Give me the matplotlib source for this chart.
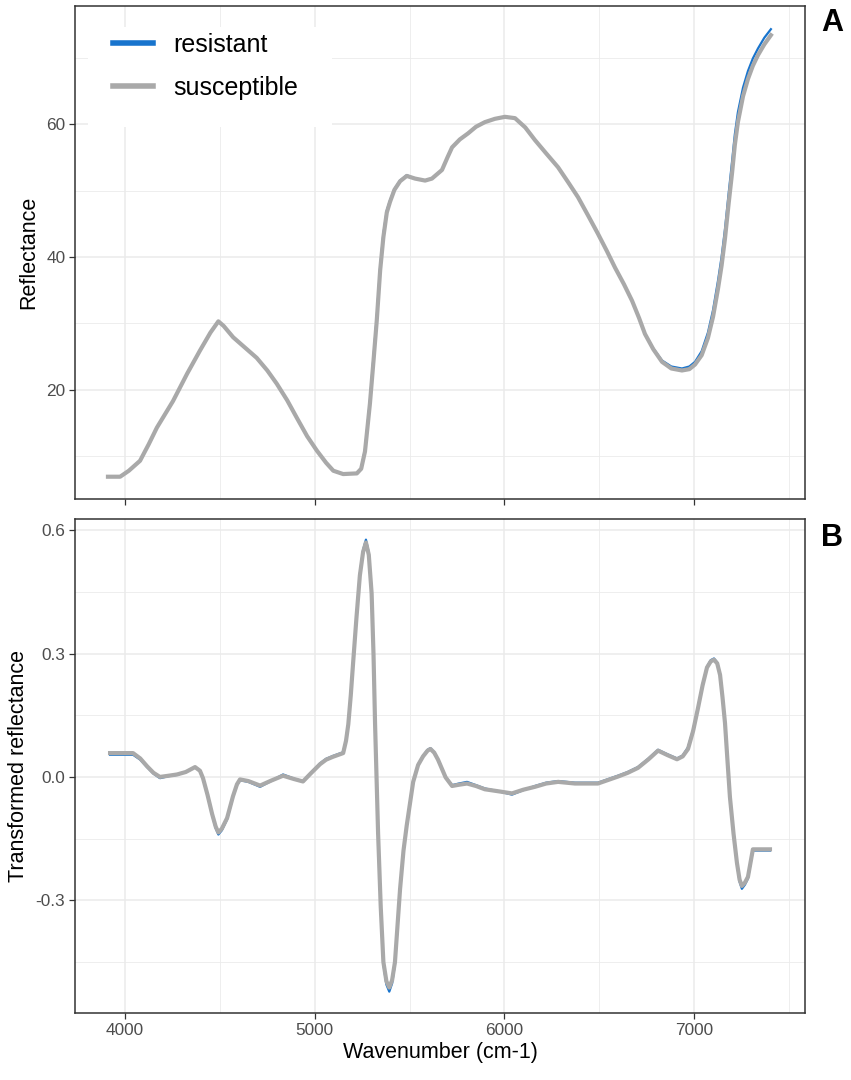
import numpy as np
from matplotlib import pyplot as plt
from matplotlib.patches import Rectangle

plt.rcParams['font.family'] = ['Liberation Sans', 'DejaVu Sans']

# panel A: raw reflectance
wn_a = [3910, 3974, 4020, 4079, 4125, 4168, 4253, 4327, 4395, 4450, 4492, 4520,
        4570, 4630, 4694, 4750, 4800, 4855, 4905, 4960, 5012, 5060, 5098, 5150,
        5222, 5245, 5265, 5291, 5310, 5327, 5345, 5362, 5380, 5397, 5420, 5450,
        5485, 5529, 5582, 5618, 5671, 5700, 5724, 5765, 5808, 5850, 5897, 5950,
        6003, 6056, 6110, 6161, 6220, 6283, 6335, 6388, 6440, 6493, 6540, 6583,
        6630, 6673, 6710, 6741, 6785, 6831, 6880, 6936, 6975, 7005, 7040, 7073,
        7100, 7126, 7145, 7163, 7182, 7200, 7215, 7231, 7258, 7284, 7310, 7337,
        7370, 7405]
refl_res = [6.9, 6.9, 7.8, 9.3, 11.8, 14.3, 18.3, 22.4, 25.9, 28.6, 30.3, 29.6,
            27.9, 26.4, 24.8, 22.9, 20.9, 18.4, 15.8, 13.0, 10.8, 9.0, 7.8, 7.3,
            7.4, 8.2, 11.0, 18.3, 25.0, 30.9, 38.5, 43.5, 47.0, 48.5, 50.2, 51.5,
            52.3, 51.8, 51.5, 51.8, 53.1, 55.0, 56.5, 57.7, 58.6, 59.6, 60.3, 60.8,
            61.1, 60.9, 59.5, 57.6, 55.6, 53.5, 51.3, 49.0, 46.3, 43.5, 40.9, 38.4,
            35.9, 33.4, 30.8, 28.4, 26.2, 24.4, 23.5, 23.2, 23.5, 24.2, 25.8, 28.6,
            32.0, 36.4, 40.0, 44.2, 49.5, 54.3, 58.5, 61.8, 65.5, 68.0, 69.9, 71.4,
            73.0, 74.3]
refl_sus = [6.9, 6.9, 7.8, 9.3, 11.8, 14.3, 18.3, 22.4, 25.9, 28.6, 30.3, 29.6,
            27.9, 26.4, 24.8, 22.9, 20.9, 18.4, 15.8, 13.0, 10.8, 9.0, 7.8, 7.3,
            7.4, 8.1, 10.7, 17.9, 24.4, 30.4, 38.0, 43.0, 46.7, 48.3, 50.1, 51.4,
            52.2, 51.8, 51.5, 51.8, 53.1, 55.0, 56.5, 57.7, 58.6, 59.6, 60.3, 60.8,
            61.1, 60.9, 59.5, 57.6, 55.6, 53.5, 51.3, 49.0, 46.3, 43.5, 40.9, 38.4,
            35.9, 33.4, 30.8, 28.4, 26.1, 24.2, 23.2, 22.9, 23.1, 23.8, 25.2, 27.8,
            31.0, 35.2, 38.7, 42.8, 48.0, 52.6, 56.9, 60.3, 64.2, 66.8, 68.8, 70.4,
            72.0, 73.4]

# panel B: transformed reflectance
wn_b = [3921, 4042, 4080, 4116, 4150, 4184, 4230, 4274, 4320, 4369, 4395, 4411,
        4435, 4459, 4478, 4492, 4510, 4538, 4569, 4590, 4606, 4650, 4712, 4770,
        4833, 4890, 4938, 4980, 5028, 5060, 5096, 5150, 5165, 5177, 5190, 5202,
        5220, 5238, 5255, 5270, 5285, 5300, 5310, 5318, 5334, 5348, 5362, 5378,
        5393, 5408, 5423, 5450, 5468, 5485, 5519, 5545, 5571, 5595, 5610, 5630,
        5650, 5690, 5724, 5760, 5803, 5850, 5897, 5970, 6040, 6100, 6161, 6220,
        6283, 6372, 6493, 6599, 6650, 6704, 6760, 6810, 6860, 6910, 6940, 6968,
        6995, 7020, 7045, 7068, 7088, 7105, 7122, 7137, 7150, 7163, 7176, 7189,
        7208, 7226, 7240, 7252, 7268, 7284, 7298, 7310, 7400]
trans_res = [0.054, 0.054, 0.042, 0.024, 0.008, -0.003, 0.002, 0.005, 0.012, 0.024,
             0.015, -0.003, -0.045, -0.092, -0.125, -0.140, -0.130, -0.103, -0.049,
             -0.020, -0.008, -0.012, -0.024, -0.010, 0.006, -0.004, -0.011, 0.010,
             0.033, 0.044, 0.051, 0.060, 0.090, 0.130, 0.200, 0.277, 0.390, 0.494,
             0.552, 0.577, 0.545, 0.450, 0.300, 0.133, -0.138, -0.320, -0.455,
             -0.505, -0.522, -0.502, -0.455, -0.274, -0.180, -0.119, -0.011, 0.030,
             0.051, 0.066, 0.070, 0.060, 0.043, 0.000, -0.020, -0.016, -0.012,
             -0.020, -0.028, -0.035, -0.043, -0.032, -0.022, -0.014, -0.010, -0.014,
             -0.014, 0.003, 0.012, 0.024, 0.045, 0.066, 0.055, 0.045, 0.052, 0.072,
             0.115, 0.168, 0.225, 0.268, 0.284, 0.288, 0.278, 0.250, 0.195, 0.133,
             0.040, -0.049, -0.140, -0.211, -0.255, -0.272, -0.262, -0.247, -0.210,
             -0.179, -0.179]
trans_sus = [0.058, 0.058, 0.045, 0.026, 0.010, 0.000, 0.003, 0.006, 0.012, 0.024,
             0.015, -0.003, -0.044, -0.090, -0.121, -0.135, -0.126, -0.100, -0.047,
             -0.018, -0.006, -0.010, -0.021, -0.009, 0.003, -0.005, -0.011, 0.009,
             0.031, 0.042, 0.049, 0.058, 0.088, 0.128, 0.198, 0.275, 0.387, 0.490,
             0.547, 0.570, 0.540, 0.446, 0.297, 0.131, -0.136, -0.316, -0.450,
             -0.497, -0.512, -0.494, -0.450, -0.272, -0.179, -0.118, -0.012, 0.029,
             0.050, 0.064, 0.068, 0.059, 0.042, -0.001, -0.022, -0.019, -0.016,
             -0.022, -0.030, -0.035, -0.040, -0.031, -0.024, -0.016, -0.012, -0.016,
             -0.016, 0.001, 0.010, 0.022, 0.043, 0.064, 0.053, 0.043, 0.050, 0.068,
             0.112, 0.166, 0.223, 0.266, 0.281, 0.285, 0.276, 0.248, 0.193, 0.131,
             0.040, -0.049, -0.138, -0.209, -0.250, -0.265, -0.257, -0.243, -0.207,
             -0.176, -0.176]

BLUE = '#1874CD'
GREY = '#A9A9A9'
GRID = '#EBEBEB'


def style(ax, ymajor, yminor, ylim):
    ax.set_xlim(3736, 7585)
    ax.set_ylim(*ylim)
    ax.set_xticks([4000, 5000, 6000, 7000])
    ax.set_xticks([4500, 5500, 6500, 7500], minor=True)
    ax.set_yticks(ymajor)
    ax.set_yticks(yminor, minor=True)
    ax.grid(True, which='major', color=GRID, lw=1.1)
    ax.grid(True, which='minor', color=GRID, lw=0.6)
    ax.set_axisbelow(True)
    ax.tick_params(which='major', length=4, width=0.9, color='#333333',
                   labelcolor='#4D4D4D', labelsize=12.4, pad=3)
    ax.tick_params(which='minor', length=0)
    for s in ax.spines.values():
        s.set_color('#333333')
        s.set_linewidth(1.1)


fig = plt.figure(figsize=(8.51, 10.8), dpi=100)
ax1 = fig.add_axes([0.0881, 0.5380, 0.8579, 0.4565])
ax2 = fig.add_axes([0.0881, 0.0620, 0.8579, 0.4574])

ax1.plot(wn_a, refl_res, color=BLUE, lw=1.6, label='resistant', solid_joinstyle='round')
ax1.plot(wn_a, refl_sus, color=GREY, lw=3.0, label='susceptible', solid_joinstyle='round')
style(ax1, [20, 40, 60], [10, 30, 50, 70], (3.55, 77.8))
ax1.set_xticklabels([])
ax1.set_ylabel('Reflectance', fontsize=15.5, labelpad=5)

# white legend background as in the original
ax1.add_patch(Rectangle((0.018, 0.755), 0.334, 0.203, transform=ax1.transAxes,
                        facecolor='white', edgecolor='none', zorder=1.5))
leg = ax1.legend(loc='upper left', bbox_to_anchor=(0.052, 0.945), frameon=False,
                 fontsize=18, handlelength=1.6, handletextpad=0.8,
                 labelspacing=0.75, borderpad=0, borderaxespad=0)
for ln in leg.get_lines():
    ln.set_linewidth(4)

ax2.plot(wn_b, trans_res, color=BLUE, lw=1.6, solid_joinstyle='round')
ax2.plot(wn_b, trans_sus, color=GREY, lw=3.0, solid_joinstyle='round')
style(ax2, [-0.3, 0.0, 0.3, 0.6], [-0.45, -0.15, 0.15, 0.45], (-0.574, 0.627))
ax2.set_yticklabels(['-0.3', '0.0', '0.3', '0.6'])
ax2.set_ylabel('Transformed reflectance', fontsize=15.5, labelpad=5)
ax2.set_xlabel('Wavenumber (cm-1)', fontsize=15.5, labelpad=3)

fig.text(0.978, 0.979, 'A', fontsize=22, fontweight='bold', ha='center', va='center')
fig.text(0.978, 0.502, 'B', fontsize=22, fontweight='bold', ha='center', va='center')

fig.savefig('out.png', dpi=100)
